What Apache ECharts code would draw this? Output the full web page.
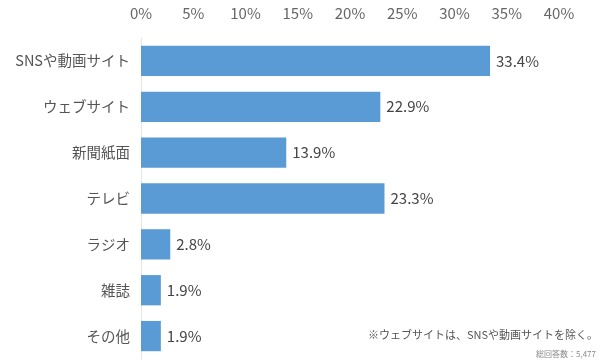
<!DOCTYPE html>
<html><head><meta charset="utf-8">
<script src="https://cdn.jsdelivr.net/npm/echarts@6/dist/echarts.min.js"></script>
<style>html,body{margin:0;padding:0;background:#fff}#c{width:600px;height:363px}</style>
</head><body><div id="c"></div>
<script>
const categories = ['SNSや動画サイト','ウェブサイト','新聞紙面','テレビ','ラジオ','雑誌','その他'];
const values = [33.4, 22.9, 13.9, 23.3, 2.8, 1.9, 1.9];
const noteText = '※ウェブサイトは、SNSや動画サイトを除く。';
const totalText = '総回答数：5,477';
const font = '"Noto Sans CJK JP", "Noto Sans", sans-serif';
const chart = echarts.init(document.getElementById('c'));
chart.setOption({
  animation: false,
  grid: {left: 141, right: 41, top: 38, bottom: 4},
  xAxis: {
    type: 'value', position: 'top', min: 0, max: 40, interval: 5,
    axisLabel: {formatter: '{value}%', color: '#666', fontSize: 15, fontFamily: font, margin: 17},
    axisLine: {show: false}, axisTick: {show: false}, splitLine: {show: false}
  },
  yAxis: {
    type: 'category', data: categories, inverse: true,
    axisLabel: {color: '#555', fontSize: 14.5, fontFamily: font, margin: 11},
    axisLine: {show: true, lineStyle: {color: '#e6e6e6', width: 1}},
    axisTick: {show: false}
  },
  series: [{
    type: 'bar', data: values, barWidth: '66%',
    itemStyle: {color: '#5B9BD5'},
    label: {show: true, position: 'right', formatter: p => p.value.toFixed(1) + '%', color: '#444', fontSize: 15, fontFamily: font, distance: 6}
  }],
  graphic: [
    {type: 'text', right: 2, top: 329, style: {text: noteText, fill: '#555', font: '11px ' + font}},
    {type: 'text', right: 4, top: 350, style: {text: totalText, fill: '#888', font: '8px ' + font}}
  ]
});
</script></body></html>
